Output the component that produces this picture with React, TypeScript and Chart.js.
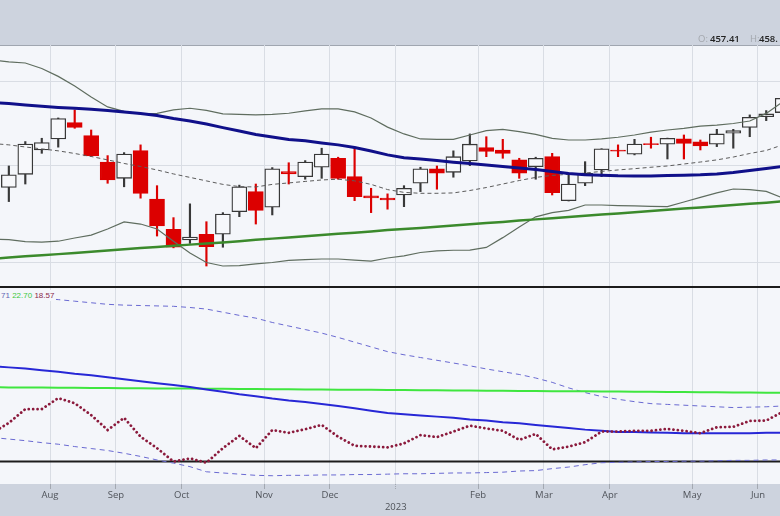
import React, { useEffect, useRef } from 'react';
import { Chart, registerables } from 'chart.js';

Chart.register(...registerables);

// ---------- data (weekly bars, week start dates) ----------
const weekStarts = [
  '2022-07-10', '2022-07-17', '2022-07-24', '2022-07-31', '2022-08-07', '2022-08-14', '2022-08-21', '2022-08-28',
  '2022-09-04', '2022-09-11', '2022-09-18', '2022-09-25', '2022-10-02', '2022-10-09', '2022-10-16', '2022-10-23',
  '2022-10-30', '2022-11-06', '2022-11-13', '2022-11-20', '2022-11-27', '2022-12-04', '2022-12-11', '2022-12-18',
  '2022-12-25', '2023-01-01', '2023-01-08', '2023-01-15', '2023-01-22', '2023-01-29', '2023-02-05', '2023-02-12',
  '2023-02-19', '2023-02-26', '2023-03-05', '2023-03-12', '2023-03-19', '2023-03-26', '2023-04-02', '2023-04-09',
  '2023-04-16', '2023-04-23', '2023-04-30', '2023-05-07', '2023-05-14', '2023-05-21', '2023-05-28', '2023-06-04',
  '2023-06-11',
];

const opens = [
  null, 388.3, 395.4, 409.0, 415.3, 424.8, 417.2, 402.2, 393.2, 408.6, 382.0, 366.3, 360.9, 363.8, 363.8, 375.4,
  386.0, 377.7, 396.9, 394.1, 399.3, 404.3, 394.1, 383.7, 382.5, 384.2, 390.5, 398.4, 396.5, 402.8, 410.3, 409.0,
  403.4, 399.6, 405.2, 381.2, 390.5, 397.8, 409.0, 406.6, 412.6, 412.3, 415.3, 413.6, 412.3, 418.6, 422.0, 428.4,
  430.8,
];
const highs = [
  null, 400.0, 413.8, 415.7, 427.6, 432.4, 420.5, 405.8, 407.5, 411.9, 389.2, 372.3, 379.5, 370.2, 374.9, 389.5,
  390.1, 399.1, 401.8, 403.0, 410.0, 404.9, 410.6, 387.8, 384.8, 389.2, 399.3, 400.0, 408.5, 418.2, 416.6, 415.1,
  404.3, 404.9, 407.1, 396.0, 402.4, 409.7, 411.9, 415.1, 416.3, 415.8, 417.6, 414.7, 420.9, 420.9, 429.4, 432.0,
  440.4,
];
const lows = [
  null, 380.7, 390.1, 407.1, 410.6, 421.5, 405.3, 390.5, 388.6, 382.5, 362.9, 357.0, 359.2, 348.1, 357.3, 372.8,
  369.0, 373.7, 390.1, 392.7, 393.2, 392.7, 381.2, 374.9, 376.7, 378.0, 386.0, 387.3, 393.8, 400.2, 405.2, 404.3,
  393.2, 392.7, 384.2, 381.0, 389.2, 394.1, 405.2, 406.2, 410.0, 403.9, 403.9, 409.0, 410.9, 410.0, 416.6, 426.0,
  429.5,
];
const closes = [
  null, 395.1, 412.4, 413.2, 427.2, 422.0, 405.6, 392.3, 406.7, 385.1, 368.0, 357.3, 362.4, 357.6, 374.2, 388.6,
  376.0, 398.4, 395.6, 402.2, 406.7, 393.2, 383.3, 382.6, 381.6, 387.8, 398.4, 396.0, 405.2, 412.3, 408.1, 407.1,
  396.0, 404.3, 385.4, 390.1, 396.0, 409.6, 408.3, 412.4, 412.0, 415.7, 412.8, 411.3, 418.2, 420.1, 428.0, 430.0,
  439.4,
];

const longAverage = [
  436.9, 436.2, 435.4, 434.6, 433.9, 433.4, 432.8, 432.1, 431.2, 430.3, 429.1, 427.3, 425.8, 424.0, 421.9, 419.9,
  417.9, 416.4, 415.0, 414.2, 413.0, 411.9, 410.4, 408.4, 406.2, 404.6, 403.9, 403.0, 402.1, 401.4, 400.6, 399.7,
  398.9, 398.1, 397.0, 395.9, 395.2, 394.9, 394.6, 394.5, 394.5, 394.8, 394.9, 395.1, 395.6, 396.4, 397.5, 398.6,
  399.7,
];
const bandUpper = [
  463.4, 462.2, 461.5, 458.0, 453.0, 447.0, 440.2, 434.2, 431.5, 430.0, 430.3, 432.4, 433.4, 432.1, 430.0, 429.7,
  429.4, 429.7, 430.4, 431.8, 433.0, 433.0, 431.2, 427.6, 422.2, 418.2, 415.3, 415.1, 415.1, 417.6, 420.1, 420.9,
  419.6, 417.9, 415.6, 414.7, 414.7, 415.3, 416.3, 417.6, 419.3, 420.5, 421.4, 422.8, 423.4, 424.3, 425.8, 430.3,
  437.2,
];
const bandMiddle = [
  412.7, 411.9, 410.7, 409.6, 408.5, 407.0, 405.3, 403.4, 401.4, 399.7, 397.8, 395.6, 393.7, 391.8, 389.9, 388.7,
  388.5, 389.9, 390.7, 391.5, 392.3, 392.7, 391.8, 389.9, 387.1, 385.6, 385.1, 385.1, 385.3, 386.6, 388.2, 390.1,
  392.0, 393.7, 394.8, 395.4, 396.1, 397.0, 397.8, 398.5, 399.3, 400.0, 401.1, 402.2, 403.4, 405.0, 407.0, 408.7,
  411.9,
];
const bandLower = [
  361.4, 361.1, 360.1, 359.8, 360.3, 361.9, 363.4, 366.5, 370.1, 369.0, 366.5, 360.3, 354.5, 349.8, 348.1, 348.3,
  349.1, 349.8, 350.8, 351.2, 351.5, 351.5, 351.0, 350.5, 352.0, 353.0, 354.7, 355.5, 355.8, 355.9, 357.2, 362.1,
  367.5, 372.7, 374.9, 376.1, 378.9, 378.9, 378.6, 378.4, 378.2, 378.0, 380.5, 382.9, 385.3, 387.4, 387.1, 386.1,
  382.6,
];
const riseAverage = [
  351.6, 352.2, 352.8, 353.3, 353.9, 354.5, 355.1, 355.7, 356.3, 356.9, 357.4, 358.0, 358.6, 359.1, 359.7, 360.3,
  361.0, 361.6, 362.2, 362.8, 363.4, 364.0, 364.6, 365.2, 365.9, 366.5, 367.0, 367.6, 368.3, 368.9, 369.5, 370.1,
  370.8, 371.4, 372.0, 372.6, 373.3, 373.9, 374.5, 375.1, 375.7, 376.4, 377.0, 377.6, 378.2, 378.9, 379.5, 380.1,
  380.8,
];

// lower indicator panel
const indicatorLine = [
  13.0, 15.5, 19.0, 19.0, 21.8, 20.5, 17.5, 13.7, 16.8, 12.0, 9.1, 5.7, 6.5, 5.4, 9.1, 12.2,
  9.1, 13.7, 13.0, 13.9, 15.0, 12.0, 9.7, 9.5, 9.3, 10.3, 12.4, 11.9, 13.3, 14.8, 14.1, 13.5,
  11.2, 12.7, 8.8, 9.5, 10.6, 13.3, 13.3, 13.5, 13.5, 14.0, 13.5, 12.9, 14.4, 14.5, 16.0, 16.1,
  18.3,
];
const indicatorMid = [
  29.9, 29.6, 29.3, 28.9, 28.5, 28.0, 27.6, 27.1, 26.6, 26.1, 25.6, 25.1, 24.6, 24.0, 23.4, 22.8,
  22.3, 21.7, 21.2, 20.8, 20.3, 19.8, 19.2, 18.6, 18.0, 17.7, 17.4, 17.1, 16.8, 16.4, 16.1, 15.7,
  15.4, 15.0, 14.6, 14.2, 13.8, 13.5, 13.2, 13.2, 13.1, 13.0, 12.9, 12.9, 12.9, 12.9, 12.9, 13.0,
  13.0,
];
const indicatorUpper = [
  47.6, 47.5, 47.2, 47.1, 46.8, 46.4, 46.0, 45.6, 45.4, 45.3, 45.2, 45.1, 44.8, 44.4, 43.6, 42.8,
  42.1, 41.0, 40.1, 39.2, 38.3, 37.2, 36.0, 34.8, 33.6, 32.8, 32.1, 31.4, 30.7, 30.0, 29.2, 28.5,
  27.8, 26.9, 25.8, 24.4, 23.2, 22.2, 21.5, 20.9, 20.4, 20.2, 20.0, 19.8, 19.6, 19.4, 19.5, 19.6,
  19.8,
];
const indicatorLower = [
  11.8, 11.4, 11.0, 10.5, 10.1, 9.5, 9.0, 8.5, 7.8, 7.0, 6.1, 5.3, 4.4, 3.1, 2.8, 2.5,
  2.2, 2.1, 2.2, 2.2, 2.3, 2.3, 2.4, 2.4, 2.5, 2.6, 2.6, 2.7, 2.8, 2.8, 2.9, 3.0,
  3.3, 3.4, 3.9, 4.3, 4.9, 5.4, 5.5, 5.6, 5.7, 5.7, 5.8, 5.8, 5.9, 6.0, 6.0, 6.1,
  6.1,
];
const indicatorSignal = [
  24.55, 24.52, 24.50, 24.47, 24.44, 24.41, 24.38, 24.35, 24.32, 24.29, 24.26, 24.23, 24.21, 24.18, 24.15, 24.12,
  24.09, 24.06, 24.03, 24.00, 23.97, 23.95, 23.92, 23.89, 23.86, 23.83, 23.80, 23.77, 23.74, 23.71, 23.69, 23.66,
  23.63, 23.60, 23.57, 23.54, 23.51, 23.48, 23.45, 23.43, 23.40, 23.37, 23.34, 23.31, 23.28, 23.25, 23.22, 23.19,
  23.17,
];
const indicatorLevels = [50, 5.7];

const priceGridLevels = [350, 400, 450];
const monthNames = ['Jan', 'Feb', 'Mar', 'Apr', 'May', 'Jun', 'Jul', 'Aug', 'Sep', 'Oct', 'Nov', 'Dec'];
const headerOpen = '457.41';
const headerHigh = '458.';
const legendTexts = ['71', '22.70', '18.57'];

// ---------- view settings ----------
const X_MIN = 0.463;
const X_MAX = 47.837;
const P_MIN = 338.1;
const P_MAX = 473.2;
const STRIP_BG = '#cdd3de';
const PLOT_BG = '#f4f6fa';
const GRID = '#d9dde4';
const UP_FILL = '#f7f8fb';
const UP_LINE = '#383838';
const DOWN = '#dc0000';

function buildMonthTicks() {
  const out: { value: number; label: string | string[] }[] = [];
  for (let k = 1; k < weekStarts.length; k++) {
    const a = new Date(weekStarts[k - 1] + 'T00:00:00Z');
    const b = new Date(weekStarts[k] + 'T00:00:00Z');
    if (a.getUTCMonth() !== b.getUTCMonth()) {
      const m = b.getUTCMonth();
      out.push({ value: k - 0.5, label: m === 0 ? ['', String(b.getUTCFullYear())] : monthNames[m] });
    }
  }
  return out;
}
const monthTicks = buildMonthTicks();

const pts = (arr: (number | null)[]) => arr.map((v, k) => ({ x: k, y: v }));

const plotBackground = {
  id: 'plotBackground',
  beforeDraw(chart: any, _args: any, opts: any) {
    const { ctx, chartArea: a } = chart;
    ctx.save();
    ctx.fillStyle = PLOT_BG;
    ctx.fillRect(a.left, a.top, a.right - a.left, a.bottom - a.top);
    if (opts && opts.topRule) {
      ctx.fillStyle = opts.topRule;
      ctx.fillRect(a.left, a.top, a.right - a.left, 1);
    }
    ctx.restore();
  },
};

function xScale(showLabels: boolean) {
  return {
    type: 'linear',
    min: X_MIN,
    max: X_MAX,
    bounds: 'data',
    offset: false,
    grid: {
      color: GRID,
      lineWidth: 1,
      offset: false,
      drawTicks: showLabels,
      tickLength: 5,
      tickColor: '#a3a8b1',
      tickBorderDash: (ctx: any) => {
        const t = monthTicks[ctx.index];
        return t && Array.isArray(t.label) ? [1, 1] : [];
      },
    },
    border: { display: false },
    ticks: {
      display: showLabels,
      autoSkip: false,
      maxRotation: 0,
      minRotation: 0,
      padding: 0,
      color: '#4f535a',
      font: { family: 'Open Sans', size: 9.5, lineHeight: 1.25 },
      callback: (_v: number, i: number) => (monthTicks[i] ? monthTicks[i].label : ''),
    },
    afterBuildTicks: (s: any) => {
      s.ticks = monthTicks.map((t) => ({ value: t.value }));
    },
    afterFit: (s: any) => {
      s.height = showLabels ? 32 : 0;
    },
  };
}

export default function App() {
  const priceRef = useRef<HTMLCanvasElement>(null);
  const lowerRef = useRef<HTMLCanvasElement>(null);

  useEffect(() => {
    const bodyData: any[] = [];
    const wickData: any[] = [];
    const bodyFill: string[] = [];
    const bodyStroke: string[] = [];
    const wickColor: string[] = [];
    for (let k = 0; k < weekStarts.length; k++) {
      const o = opens[k], c = closes[k], h = highs[k], l = lows[k];
      if (o == null || c == null || h == null || l == null) continue;
      const up = c >= o;
      bodyData.push({ x: k, y: [o, c] });
      wickData.push({ x: k, y: [l, h] });
      bodyFill.push(up ? UP_FILL : DOWN);
      bodyStroke.push(up ? UP_LINE : DOWN);
      wickColor.push(up ? UP_LINE : DOWN);
    }

    const line = (data: any, color: string, width: number, order: number, extra: any = {}) => ({
      type: 'line',
      data,
      borderColor: color,
      borderWidth: width,
      pointRadius: 0,
      tension: 0,
      fill: false,
      order,
      ...extra,
    });

    const priceChart = new Chart(priceRef.current as HTMLCanvasElement, {
      type: 'bar',
      data: {
        datasets: [
          {
            type: 'bar',
            data: wickData,
            backgroundColor: wickColor,
            borderWidth: 0,
            barThickness: 1.5,
            grouped: false,
            order: 10,
          },
          {
            type: 'bar',
            data: bodyData,
            backgroundColor: bodyFill,
            borderColor: bodyStroke,
            borderWidth: 1.3,
            borderSkipped: false,
            barThickness: 15,
            grouped: false,
            order: 9,
          },
          line(pts(bandUpper), '#5f6d5f', 1.2, 6),
          line(pts(bandLower), '#5f6d5f', 1.2, 6),
          line(pts(bandMiddle), '#5c5c5c', 1, 6, { borderDash: [4, 3] }),
          line(pts(riseAverage), '#3b8a2c', 2.5, 3),
          line(pts(longAverage), '#10108a', 3, 2),
        ] as any,
      },
      options: {
        animation: false,
        responsive: false,
        maintainAspectRatio: false,
        events: [],
        layout: { padding: { top: 45, left: 0, right: 0, bottom: 0 } },
        plugins: {
          legend: { display: false },
          tooltip: { enabled: false },
          plotBackground: { topRule: '#a0a6b0' },
        } as any,
        scales: {
          x: xScale(false) as any,
          y: {
            type: 'logarithmic',
            position: 'right',
            min: P_MIN,
            max: P_MAX,
            bounds: 'data',
            grid: { color: GRID, drawTicks: false },
            border: { display: false },
            ticks: { display: false },
            afterBuildTicks: (s: any) => {
              s.ticks = priceGridLevels.map((v) => ({ value: v }));
            },
            afterFit: (s: any) => {
              s.width = 0;
            },
          } as any,
        },
      },
      plugins: [plotBackground],
    });

    const levelLine = (v: number) => [
      { x: 0, y: v },
      { x: weekStarts.length, y: v },
    ];

    const lowerChart = new Chart(lowerRef.current as HTMLCanvasElement, {
      type: 'line',
      data: {
        datasets: [
          line(levelLine(indicatorLevels[0]), '#1c1c1c', 2, 1, { clip: false }),
          line(levelLine(indicatorLevels[1]), '#1c1c1c', 2, 8),
          line(pts(indicatorUpper), '#6a6ad2', 1, 6, { borderDash: [5, 4] }),
          line(pts(indicatorLower), '#6a6ad2', 1, 7, { borderDash: [5, 4] }),
          line(pts(indicatorSignal), '#3fe63f', 2, 5),
          line(pts(indicatorMid), '#2727d6', 2, 4),
          line(pts(indicatorLine), '#8b1a3c', 2.8, 2, { borderDash: [0.01, 4.4], borderCapStyle: 'round' }),
        ] as any,
      },
      options: {
        animation: false,
        responsive: false,
        maintainAspectRatio: false,
        events: [],
        layout: { padding: { top: 7, left: 0, right: 0, bottom: 0 } },
        plugins: {
          legend: { display: false },
          tooltip: { enabled: false },
          plotBackground: {},
        } as any,
        scales: {
          x: xScale(true) as any,
          y: { type: 'linear', display: false, min: 0, max: 50 },
        },
      },
      plugins: [plotBackground],
    });

    return () => {
      priceChart.destroy();
      lowerChart.destroy();
    };
  }, []);

  const gray = { color: '#a3a7ad', fontWeight: 400 };
  const dark = { color: '#222', fontWeight: 600 };
  const txt: React.CSSProperties = {
    position: 'absolute',
    top: 33,
    fontFamily: '"Open Sans", sans-serif',
    fontSize: '9.5px',
    lineHeight: '12px',
    whiteSpace: 'nowrap',
  };

  return (
    <div
      style={{
        position: 'fixed',
        left: 0,
        top: 0,
        width: 780,
        height: 516,
        background: STRIP_BG,
        overflow: 'hidden',
      }}
    >
      <canvas ref={priceRef} width={780} height={287} style={{ position: 'absolute', left: 0, top: 0, width: 780, height: 287 }} />
      <canvas ref={lowerRef} width={780} height={236} style={{ position: 'absolute', left: 0, top: 280, width: 780, height: 236 }} />
      <span style={{ ...txt, ...gray, left: 698 }}>O:</span>
      <span style={{ ...txt, ...dark, left: 710 }}>{headerOpen}</span>
      <span style={{ ...txt, ...gray, left: 750 }}>H:</span>
      <span style={{ ...txt, ...dark, left: 759 }}>{headerHigh}</span>
      <div
        style={{
          position: 'absolute',
          left: 0,
          top: 290,
          height: 11,
          lineHeight: '11px',
          fontFamily: '"Liberation Sans", Arial, sans-serif',
          fontSize: '8px',
          background: PLOT_BG,
          padding: '0 2px 0 1px',
          whiteSpace: 'nowrap',
        }}
      >
        <span style={{ color: '#6262b4' }}>{legendTexts[0]}</span>{' '}
        <span style={{ color: '#3cc83c' }}>{legendTexts[1]}</span>{' '}
        <span style={{ color: '#8b2a4a' }}>{legendTexts[2]}</span>
      </div>
    </div>
  );
}
